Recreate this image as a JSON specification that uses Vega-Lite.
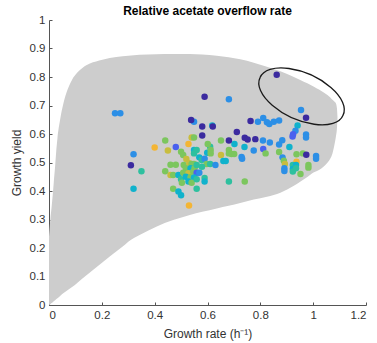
{
  "$schema": "https://vega.github.io/schema/vega-lite/v6.json",
  "width": 317,
  "height": 285,
  "autosize": {"type": "none"},
  "padding": {"left": 49, "top": 20, "right": 11, "bottom": 38},
  "background": "white",
  "title": {"text": "Relative acetate overflow rate", "fontSize": 12, "font": "Liberation Sans", "fontWeight": "bold", "color": "#000000", "offset": -4, "anchor": "middle"},
  "config": {
    "view": {"stroke": null},
    "axis": {"grid": false, "domainColor": "#555555", "tickColor": "#555555", "labelColor": "#333333", "titleColor": "#333333", "labelFont": "Liberation Sans", "titleFont": "Liberation Sans", "labelFontSize": 11.5, "titleFontSize": 12, "titleFontWeight": "normal", "tickSize": -3}
  },
  "datasets": {
    "region": [
      {"x": 0, "y": 0.24, "y2": 0},
      {"x": 0.005, "y": 0.30, "y2": 0.003},
      {"x": 0.01, "y": 0.345, "y2": 0.007},
      {"x": 0.014, "y": 0.385, "y2": 0.01},
      {"x": 0.018, "y": 0.43, "y2": 0.013},
      {"x": 0.023, "y": 0.485, "y2": 0.017},
      {"x": 0.027, "y": 0.535, "y2": 0.02},
      {"x": 0.032, "y": 0.585, "y2": 0.024},
      {"x": 0.042, "y": 0.65, "y2": 0.032},
      {"x": 0.054, "y": 0.705, "y2": 0.041},
      {"x": 0.07, "y": 0.755, "y2": 0.052},
      {"x": 0.086, "y": 0.788, "y2": 0.062},
      {"x": 0.11, "y": 0.818, "y2": 0.08},
      {"x": 0.143, "y": 0.842, "y2": 0.105},
      {"x": 0.19, "y": 0.858, "y2": 0.14},
      {"x": 0.23, "y": 0.867, "y2": 0.17},
      {"x": 0.279, "y": 0.873, "y2": 0.205},
      {"x": 0.30, "y": 0.875, "y2": 0.222},
      {"x": 0.343, "y": 0.878, "y2": 0.246},
      {"x": 0.406, "y": 0.88, "y2": 0.275},
      {"x": 0.47, "y": 0.881, "y2": 0.298},
      {"x": 0.533, "y": 0.881, "y2": 0.316},
      {"x": 0.58, "y": 0.879, "y2": 0.327},
      {"x": 0.635, "y": 0.875, "y2": 0.339},
      {"x": 0.68, "y": 0.869, "y2": 0.348},
      {"x": 0.724, "y": 0.862, "y2": 0.358},
      {"x": 0.775, "y": 0.85, "y2": 0.37},
      {"x": 0.825, "y": 0.836, "y2": 0.38},
      {"x": 0.876, "y": 0.82, "y2": 0.394},
      {"x": 0.927, "y": 0.80, "y2": 0.418},
      {"x": 0.955, "y": 0.788, "y2": 0.435},
      {"x": 0.978, "y": 0.778, "y2": 0.449},
      {"x": 1.003, "y": 0.766, "y2": 0.466},
      {"x": 1.022, "y": 0.756, "y2": 0.474},
      {"x": 1.04, "y": 0.746, "y2": 0.486},
      {"x": 1.054, "y": 0.737, "y2": 0.499},
      {"x": 1.065, "y": 0.728, "y2": 0.514},
      {"x": 1.073, "y": 0.72, "y2": 0.532},
      {"x": 1.08, "y": 0.714, "y2": 0.56},
      {"x": 1.086, "y": 0.708, "y2": 0.59},
      {"x": 1.09, "y": 0.69, "y2": 0.62},
      {"x": 1.092, "y": 0.66, "y2": 0.655}
    ],
    "pts": [
      {"x": 0.25, "y": 0.673, "c": "c"}, {"x": 0.27, "y": 0.673, "c": "c"}, {"x": 0.32, "y": 0.529, "c": "c"},
      {"x": 0.31, "y": 0.49, "c": "a"}, {"x": 0.35, "y": 0.469, "c": "e"}, {"x": 0.32, "y": 0.408, "c": "d"},
      {"x": 0.40, "y": 0.553, "c": "h"}, {"x": 0.44, "y": 0.577, "c": "f"}, {"x": 0.45, "y": 0.542, "c": "g"},
      {"x": 0.48, "y": 0.554, "c": "b"}, {"x": 0.44, "y": 0.469, "c": "f"}, {"x": 0.46, "y": 0.456, "c": "g"},
      {"x": 0.47, "y": 0.456, "c": "f"}, {"x": 0.47, "y": 0.408, "c": "f"}, {"x": 0.46, "y": 0.492, "c": "f"},
      {"x": 0.48, "y": 0.492, "c": "f"}, {"x": 0.49, "y": 0.398, "c": "d"}, {"x": 0.50, "y": 0.385, "c": "d"},
      {"x": 0.49, "y": 0.456, "c": "d"}, {"x": 0.50, "y": 0.441, "c": "e"}, {"x": 0.503, "y": 0.429, "c": "f"},
      {"x": 0.53, "y": 0.349, "c": "h"}, {"x": 0.50, "y": 0.538, "c": "f"}, {"x": 0.508, "y": 0.526, "c": "f"},
      {"x": 0.52, "y": 0.512, "c": "g"}, {"x": 0.51, "y": 0.491, "c": "f"}, {"x": 0.531, "y": 0.497, "c": "g"},
      {"x": 0.54, "y": 0.495, "c": "f"}, {"x": 0.549, "y": 0.495, "c": "f"}, {"x": 0.518, "y": 0.48, "c": "f"},
      {"x": 0.536, "y": 0.48, "c": "d"}, {"x": 0.551, "y": 0.48, "c": "f"}, {"x": 0.559, "y": 0.491, "c": "e"},
      {"x": 0.508, "y": 0.464, "c": "f"}, {"x": 0.528, "y": 0.462, "c": "g"}, {"x": 0.546, "y": 0.468, "c": "f"},
      {"x": 0.559, "y": 0.464, "c": "b"}, {"x": 0.569, "y": 0.464, "c": "c"}, {"x": 0.518, "y": 0.45, "c": "d"},
      {"x": 0.536, "y": 0.448, "c": "f"}, {"x": 0.549, "y": 0.447, "c": "d"}, {"x": 0.528, "y": 0.433, "c": "d"},
      {"x": 0.54, "y": 0.429, "c": "f"}, {"x": 0.559, "y": 0.441, "c": "e"}, {"x": 0.589, "y": 0.446, "c": "e"},
      {"x": 0.589, "y": 0.433, "c": "d"}, {"x": 0.559, "y": 0.408, "c": "e"}, {"x": 0.549, "y": 0.544, "c": "d"},
      {"x": 0.559, "y": 0.544, "c": "e"}, {"x": 0.549, "y": 0.532, "c": "e"}, {"x": 0.569, "y": 0.518, "c": "d"},
      {"x": 0.578, "y": 0.509, "c": "e"}, {"x": 0.589, "y": 0.513, "c": "c"}, {"x": 0.597, "y": 0.495, "c": "f"},
      {"x": 0.61, "y": 0.495, "c": "e"}, {"x": 0.579, "y": 0.485, "c": "e"}, {"x": 0.599, "y": 0.534, "c": "d"},
      {"x": 0.61, "y": 0.555, "c": "e"}, {"x": 0.601, "y": 0.565, "c": "f"}, {"x": 0.612, "y": 0.544, "c": "f"},
      {"x": 0.612, "y": 0.532, "c": "f"}, {"x": 0.549, "y": 0.643, "c": "c"}, {"x": 0.538, "y": 0.649, "c": "a"},
      {"x": 0.589, "y": 0.731, "c": "a"}, {"x": 0.681, "y": 0.722, "c": "c"}, {"x": 0.58, "y": 0.626, "c": "a"},
      {"x": 0.618, "y": 0.63, "c": "d"}, {"x": 0.62, "y": 0.626, "c": "a"}, {"x": 0.58, "y": 0.595, "c": "a"},
      {"x": 0.528, "y": 0.565, "c": "h"}, {"x": 0.54, "y": 0.588, "c": "g"}, {"x": 0.549, "y": 0.588, "c": "f"},
      {"x": 0.63, "y": 0.491, "c": "c"}, {"x": 0.651, "y": 0.577, "c": "f"}, {"x": 0.651, "y": 0.526, "c": "g"},
      {"x": 0.66, "y": 0.505, "c": "d"}, {"x": 0.669, "y": 0.505, "c": "d"}, {"x": 0.681, "y": 0.544, "c": "f"},
      {"x": 0.681, "y": 0.532, "c": "f"}, {"x": 0.691, "y": 0.53, "c": "f"}, {"x": 0.701, "y": 0.53, "c": "f"},
      {"x": 0.702, "y": 0.565, "c": "d"}, {"x": 0.681, "y": 0.577, "c": "a"}, {"x": 0.711, "y": 0.607, "c": "a"},
      {"x": 0.681, "y": 0.433, "c": "e"}, {"x": 0.741, "y": 0.433, "c": "f"}, {"x": 0.729, "y": 0.519, "c": "c"},
      {"x": 0.731, "y": 0.513, "c": "c"}, {"x": 0.74, "y": 0.554, "c": "d"}, {"x": 0.741, "y": 0.587, "c": "a"},
      {"x": 0.752, "y": 0.581, "c": "a"}, {"x": 0.781, "y": 0.582, "c": "a"}, {"x": 0.763, "y": 0.646, "c": "a"},
      {"x": 0.791, "y": 0.643, "c": "c"}, {"x": 0.811, "y": 0.656, "c": "c"}, {"x": 0.825, "y": 0.641, "c": "c"},
      {"x": 0.834, "y": 0.635, "c": "c"}, {"x": 0.851, "y": 0.643, "c": "c"}, {"x": 0.871, "y": 0.647, "c": "c"},
      {"x": 0.862, "y": 0.808, "c": "a"}, {"x": 0.954, "y": 0.684, "c": "c"}, {"x": 0.973, "y": 0.657, "c": "a"},
      {"x": 0.941, "y": 0.63, "c": "d"}, {"x": 0.933, "y": 0.611, "c": "c"}, {"x": 0.924, "y": 0.599, "c": "b"},
      {"x": 0.922, "y": 0.591, "c": "b"}, {"x": 0.973, "y": 0.598, "c": "c"}, {"x": 0.973, "y": 0.588, "c": "c"},
      {"x": 0.883, "y": 0.578, "c": "c"}, {"x": 0.871, "y": 0.563, "c": "c"}, {"x": 0.91, "y": 0.554, "c": "d"},
      {"x": 0.81, "y": 0.577, "c": "c"}, {"x": 0.836, "y": 0.57, "c": "c"}, {"x": 0.811, "y": 0.547, "c": "b"},
      {"x": 0.82, "y": 0.532, "c": "f"}, {"x": 0.775, "y": 0.542, "c": "c"}, {"x": 0.871, "y": 0.537, "c": "f"},
      {"x": 0.884, "y": 0.518, "c": "c"}, {"x": 0.889, "y": 0.506, "c": "f"}, {"x": 0.893, "y": 0.495, "c": "g"},
      {"x": 0.891, "y": 0.48, "c": "c"}, {"x": 0.891, "y": 0.47, "c": "c"}, {"x": 0.937, "y": 0.529, "c": "f"},
      {"x": 0.937, "y": 0.503, "c": "h"}, {"x": 0.961, "y": 0.532, "c": "f"}, {"x": 0.974, "y": 0.527, "c": "a"},
      {"x": 0.923, "y": 0.491, "c": "e"}, {"x": 0.923, "y": 0.477, "c": "d"}, {"x": 0.923, "y": 0.468, "c": "e"},
      {"x": 0.935, "y": 0.491, "c": "d"}, {"x": 0.935, "y": 0.48, "c": "e"}, {"x": 0.952, "y": 0.46, "c": "f"},
      {"x": 0.982, "y": 0.491, "c": "f"}, {"x": 0.982, "y": 0.482, "c": "f"}, {"x": 1.011, "y": 0.523, "c": "c"},
      {"x": 1.011, "y": 0.513, "c": "c"}
    ],
    "ell": [{"x": 0.956, "y": 0.732}]
  },
  "encoding": {
    "x": {"field": "x", "type": "quantitative", "scale": {"domain": [0, 1.2], "nice": false, "zero": false},
          "axis": {"values": [0, 0.2, 0.4, 0.6, 0.8, 1, 1.2], "format": "~g", "title": "Growth rate (h⁻¹)", "labelPadding": 7, "titlePadding": 8}},
    "y": {"field": "y", "type": "quantitative", "scale": {"domain": [0, 1], "nice": false, "zero": false},
          "axis": {"values": [0, 0.1, 0.2, 0.3, 0.4, 0.5, 0.6, 0.7, 0.8, 0.9, 1], "format": "~g", "title": "Growth yield", "labelPadding": 7, "titlePadding": 6}}
  },
  "layer": [
    {
      "data": {"name": "region"},
      "mark": {"type": "area", "orient": "vertical", "interpolate": "monotone", "color": "#cdcdcd", "opacity": 1},
      "encoding": {"y2": {"field": "y2"}}
    },
    {
      "data": {"name": "pts"},
      "mark": {"type": "circle", "size": 42, "opacity": 1},
      "encoding": {
        "color": {"field": "c", "type": "nominal", "legend": null,
                  "scale": {"domain": ["a", "b", "c", "d", "e", "f", "g", "h"],
                            "range": ["#3b2a9f", "#4a60ee", "#2c8fe6", "#10b2cc", "#2ec09f", "#7cc65e", "#c8bd3e", "#f4b534"]}}
      }
    },
    {
      "data": {"name": "ell"},
      "mark": {"type": "point", "shape": "M 0.911 0.412 A 1 0.503 24.3 1 0 -0.911 -0.412 A 1 0.503 24.3 1 0 0.911 0.412 Z", "size": 8300, "filled": false, "stroke": "#1a1a1a", "strokeWidth": 1.3, "opacity": 1}
    }
  ]
}
